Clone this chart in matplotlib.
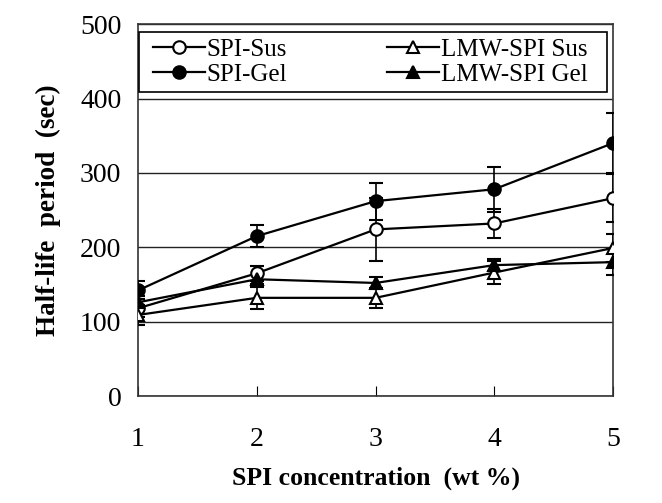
import matplotlib.pyplot as plt
from matplotlib.patches import Rectangle

conc = [1, 2, 3, 4, 5]

spi_sus = [118, 165, 224, 232, 266]
spi_sus_err = [12, 10, 42, 20, 32]
spi_gel = [142, 215, 262, 278, 340]
spi_gel_err = [12, 15, 25, 30, 40]
lmw_sus = [109, 132, 132, 166, 199]
lmw_sus_err = [14, 15, 13, 16, 19]
lmw_gel = [126, 157, 152, 176, 180]
lmw_gel_err = [8, 6, 8, 8, 17]

plt.rcParams['font.family'] = ['Liberation Serif', 'DejaVu Serif']

fig = plt.figure(figsize=(6.62, 5.03), dpi=100)
ax = fig.add_axes([0.2085, 0.2127, 0.7175, 0.7393])

series = [
    (spi_sus, spi_sus_err, 'o', 'white', 'SPI-Sus'),
    (lmw_sus, lmw_sus_err, '^', 'white', 'LMW-SPI Sus'),
    (spi_gel, spi_gel_err, 'o', 'black', 'SPI-Gel'),
    (lmw_gel, lmw_gel_err, '^', 'black', 'LMW-SPI Gel'),
]
handles = {}
for vals, err, mk, fc, name in series:
    eb = ax.errorbar(conc, vals, yerr=err, color='black', lw=1.6,
                     marker=mk, markersize=9, markerfacecolor=fc,
                     markeredgecolor='black', markeredgewidth=1.5,
                     capsize=5, elinewidth=1.2, capthick=1.2, zorder=3)
    handles[name] = eb[0]

ax.set_xlim(1, 5)
ax.set_ylim(0, 500)
ax.set_xticks(conc)
ax.set_yticks([0, 100, 200, 300, 400, 500])
ax.yaxis.grid(True, color='#222222', lw=1)
ax.set_axisbelow(True)
ax.tick_params(axis='x', direction='in', length=7, pad=22, labelsize=20)
ax.tick_params(axis='y', length=0, pad=12, labelsize=20)
for sp in ax.spines.values():
    sp.set_color('#333333')
    sp.set_linewidth(1.2)

ax.set_xlabel('SPI concentration  (wt %)', fontsize=18.5, fontweight='bold', labelpad=11)
ax.set_ylabel('Half-life  period  (sec)', fontsize=19.5, fontweight='bold', labelpad=14)

# legend box drawn separately so the inner padding can match
ax.add_patch(Rectangle((0.002, 0.817), 0.985, 0.161, transform=ax.transAxes,
                       facecolor='white', edgecolor='black', lw=1.2, zorder=4))
order = ['SPI-Sus', 'SPI-Gel', 'LMW-SPI Sus', 'LMW-SPI Gel']
leg = ax.legend([handles[k] for k in order], order, ncol=2, loc='center left',
                bbox_to_anchor=(0.02, 0.8975), fontsize=18, frameon=False,
                handlelength=2.1, handletextpad=0.05, columnspacing=4.0,
                labelspacing=0.1, borderpad=0.2, borderaxespad=0)
leg.set_zorder(5)

fig.savefig('out.png', dpi=100)
